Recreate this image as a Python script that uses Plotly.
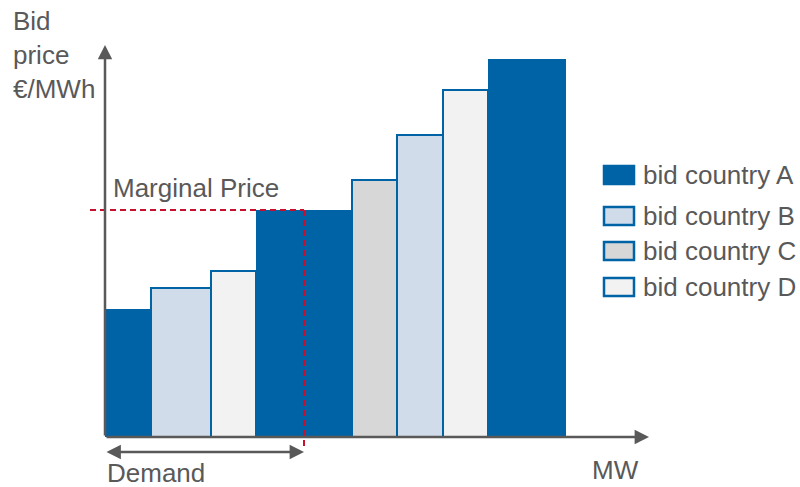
import plotly.graph_objects as go

# ---- data (arbitrary units) ----
bid_country = ["A", "B", "D", "A", "C", "B", "D", "A"]
capacity_mw = [46, 60, 45, 96, 45, 46, 45, 78]
bid_price = [128, 149, 166, 227, 257, 302, 347, 378]
demand_mw = 199
countries = ["A", "B", "C", "D"]
legend_labels = ["bid country A", "bid country B", "bid country C", "bid country D"]

fill_colors = {"A": "#0063A6", "B": "#D1DCEB", "C": "#D7D7D7", "D": "#F2F2F2"}
edge_color = "#0063A6"
text_color = "#595959"
red = "#C8102E"
FONT = "Liberation Sans, Arial, sans-serif"

# cumulative positions
lefts = []
acc = 0
for w in capacity_mw:
    lefts.append(acc)
    acc += w
centers = [l + w / 2 for l, w in zip(lefts, capacity_mw)]

# marginal price = price of the bid where demand is met
marginal_price = None
for l, w, p in zip(lefts, capacity_mw, bid_price):
    if l <= demand_mw <= l + w:
        marginal_price = p
        break

fig = go.Figure()
for c in countries:
    idx = [i for i, bc in enumerate(bid_country) if bc == c]
    fig.add_trace(go.Bar(
        x=[centers[i] for i in idx],
        y=[bid_price[i] for i in idx],
        width=[capacity_mw[i] for i in idx],
        marker=dict(color=fill_colors[c],
                    line=dict(color=edge_color, width=0 if c == "A" else 2)),
        showlegend=False,
        name=legend_labels[countries.index(c)],
        hoverinfo="skip",
    ))

total = sum(capacity_mw)
x_tip = total + 83
y_tip = max(bid_price) + 14

annotations = []
# axes arrows
annotations.append(dict(x=0, y=y_tip, ax=0, ay=0, xref="x", yref="y", axref="x", ayref="y",
                        text="", showarrow=True, arrowhead=2, arrowsize=1.15, arrowwidth=2.5,
                        arrowcolor=text_color))
annotations.append(dict(x=x_tip, y=0, ax=0, ay=0, xref="x", yref="y", axref="x", ayref="y",
                        text="", showarrow=True, arrowhead=2, arrowsize=1.15, arrowwidth=2.5,
                        arrowcolor=text_color))
# demand double arrow
annotations.append(dict(x=demand_mw, y=-15, ax=0, ay=-15, xref="x", yref="y", axref="x", ayref="y",
                        text="", showarrow=True, arrowhead=2, arrowsize=1.15, arrowwidth=2.5,
                        arrowside="end+start", arrowcolor=text_color))

# texts
annotations.append(dict(x=-94, y=433, xref="x", yref="y", text="Bid<br>price<br>€/MWh",
                        showarrow=False, xanchor="left", yanchor="top", align="left",
                        font=dict(size=26, color=text_color, family=FONT)))
annotations.append(dict(x=6, y=249, xref="x", yref="y", text="Marginal Price",
                        showarrow=False, xanchor="left", yanchor="middle",
                        font=dict(size=26, color=text_color, family=FONT)))
annotations.append(dict(x=0, y=-36, xref="x", yref="y", text="Demand",
                        showarrow=False, xanchor="left", yanchor="middle",
                        font=dict(size=26, color=text_color, family=FONT)))
annotations.append(dict(x=510, y=-33, xref="x", yref="y", text="MW",
                        showarrow=False, xanchor="center", yanchor="middle",
                        font=dict(size=26, color=text_color, family=FONT)))

shapes = []
# marginal price dashed lines
shapes.append(dict(type="line", xref="x", yref="y", x0=-15, x1=demand_mw,
                   y0=marginal_price, y1=marginal_price,
                   line=dict(color=red, width=2, dash="6px,4px")))
shapes.append(dict(type="line", xref="x", yref="y", x0=demand_mw, x1=demand_mw,
                   y0=marginal_price, y1=-10,
                   line=dict(color=red, width=2, dash="6px,4px")))

# custom legend
row_y = [262, 221, 186, 150]
for c, lab, yy in zip(countries, legend_labels, row_y):
    shapes.append(dict(type="rect", xref="x", yref="y", x0=499, x1=529, y0=yy - 9, y1=yy + 9,
                       fillcolor=fill_colors[c], line=dict(color=edge_color, width=2.5)))
    annotations.append(dict(x=536, y=yy, xref="x", yref="y", text=lab, showarrow=False,
                            xanchor="left", yanchor="middle",
                            font=dict(size=26, color=text_color, family=FONT)))

fig.update_layout(
    width=800, height=487,
    margin=dict(l=0, r=0, t=0, b=0),
    paper_bgcolor="white", plot_bgcolor="white",
    barmode="overlay",
    xaxis=dict(range=[-105, 695], visible=False, fixedrange=True),
    yaxis=dict(range=[-50, 437], visible=False, fixedrange=True),
    annotations=annotations,
    shapes=shapes,
    showlegend=False,
)

fig.write_html("out.html")
